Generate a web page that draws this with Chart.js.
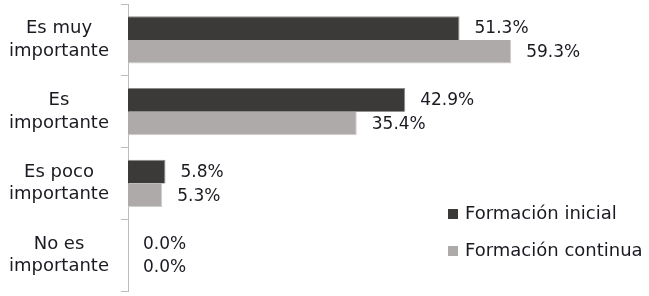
<!DOCTYPE html>
<html>
<head>
<meta charset="utf-8">
<script src="https://cdn.jsdelivr.net/npm/chart.js@4"></script>
<style>
  html, body { margin: 0; padding: 0; background: #fff; }
  #wrap { width: 649px; height: 296px; }
</style>
</head>
<body>
<div id="wrap"><canvas id="bar-chart" width="649" height="296"></canvas></div>
<script>
// categories and values
const categories = [['Es muy', 'importante'], ['Es', 'importante'], ['Es poco', 'importante'], ['No es', 'importante']];
const seriesNames = ['Formación inicial', 'Formación continua'];
const inicial = [51.3, 42.9, 5.8, 0.0];
const continua = [59.3, 35.4, 5.3, 0.0];
const colors = ['#3b3a39', '#aeaaa9'];
const edges = ['#8c8b8a', '#cfcdcc'];

const FONT = '"DejaVu Sans", sans-serif';
const TEXT = '#1a1a22';

// value labels next to bars
const valueLabels = {
  id: 'valueLabels',
  afterDatasetsDraw(chart) {
    const ctx = chart.ctx;
    ctx.save();
    ctx.font = '17px ' + FONT;
    ctx.fillStyle = TEXT;
    ctx.textAlign = 'left';
    ctx.textBaseline = 'middle';
    chart.data.datasets.forEach((ds, i) => {
      chart.getDatasetMeta(i).data.forEach((bar, j) => {
        ctx.fillText(ds.data[j].toFixed(1) + '%', bar.x + 15, bar.y + 1);
      });
    });
    ctx.restore();
  }
};

// legend inside the plot, bottom right
const boxLegend = {
  id: 'boxLegend',
  afterDraw(chart) {
    const ctx = chart.ctx;
    ctx.save();
    ctx.font = '18px ' + FONT;
    ctx.textBaseline = 'middle';
    chart.data.datasets.forEach((ds, i) => {
      const y = 214 + i * 37;
      ctx.fillStyle = ds.backgroundColor;
      ctx.fillRect(448, y - 5, 10, 10);
      ctx.fillStyle = TEXT;
      ctx.fillText(ds.label, 465, y);
    });
    ctx.restore();
  }
};

new Chart(document.getElementById('bar-chart').getContext('2d'), {
  type: 'bar',
  data: {
    labels: categories,
    datasets: [
      { label: seriesNames[0], data: inicial, backgroundColor: colors[0], borderColor: edges[0], borderWidth: { top: 1, right: 1, bottom: 0, left: 0 } },
      { label: seriesNames[1], data: continua, backgroundColor: colors[1], borderColor: edges[1], borderWidth: { top: 0, right: 1, bottom: 1, left: 0 } }
    ]
  },
  options: {
    indexAxis: 'y',
    responsive: false,
    animation: false,
    layout: { padding: { left: 7, right: 4, top: 4, bottom: 5 } },
    datasets: { bar: { categoryPercentage: 0.66, barPercentage: 1 } },
    plugins: { legend: { display: false }, tooltip: { enabled: false } },
    scales: {
      x: { display: false, min: 0, max: 80 },
      y: {
        grid: { drawOnChartArea: false, drawTicks: true, tickLength: 7, color: '#bdbdbd', offset: true },
        border: { display: true, color: '#bdbdbd', width: 1 },
        ticks: { color: TEXT, font: { family: FONT, size: 18, lineHeight: 1.25 }, padding: 12, crossAlign: 'center' },
        afterFit(scale) {
          scale.width = 121;
          scale.paddingTop = 0;
          scale.paddingBottom = 0;
        }
      }
    }
  },
  plugins: [valueLabels, boxLegend]
});
</script>
</body>
</html>
